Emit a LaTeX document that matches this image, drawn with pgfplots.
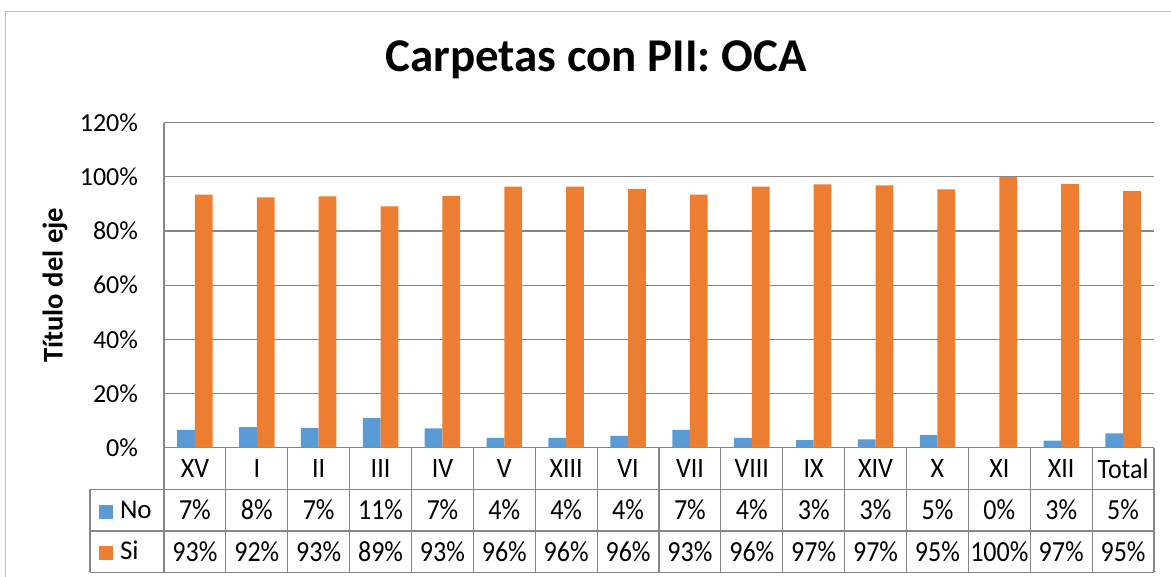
\documentclass[border=0pt]{standalone}
\usepackage{pgfplots}
\usepackage{pgfplotstable}
\pgfplotsset{compat=1.18}
\usepackage{fontspec}
\setmainfont{Carlito}
\definecolor{cno}{HTML}{5B9BD5}
\definecolor{csi}{HTML}{ED7D31}
\definecolor{gridc}{RGB}{134,134,134}
\definecolor{framec}{RGB}{191,191,191}
\pgfplotsset{sqlegend/.style={legend image code/.code={\fill[##1] (0pt,-4.3pt) rectangle (7pt,2.7pt);}}}
\pgfplotstableread{
x no si cat
0 6.6 93.4 XV
1 7.6 92.4 I
2 7.2 92.8 II
3 10.9 89.1 III
4 7.1 92.9 IV
5 3.6 96.4 V
6 3.6 96.4 XIII
7 4.4 95.6 VI
8 6.6 93.4 VII
9 3.6 96.4 VIII
10 2.8 97.2 IX
11 3.1 96.9 XIV
12 4.6 95.4 X
13 0 100 XI
14 2.6 97.4 XII
15 5.3 94.7 Total
}\datatab
\begin{document}
\begin{tikzpicture}
\useasboundingbox (0,0) rectangle (585.5pt,288.5pt);
\draw[framec, line width=0.6pt] (2.85pt,-2pt) -- (2.85pt,282.65pt) -- (590pt,282.65pt);
\begin{axis}[
 at={(82pt,64.65pt)}, anchor=south west, scale only axis,
 width=495pt, height=162.5pt,
 xmin=-0.5, xmax=15.5, ymin=0, ymax=120,
 xtick=\empty, ytick={0,20,...,120},
 /pgf/number format/assume math mode=true,
 yticklabel={\pgfmathprintnumber{\tick}\%},
 ymajorgrids, grid style={gridc, line width=0.6pt},
 axis lines*=left, axis line style={gridc, line width=0.6pt, -},
 major tick length=0pt,
 tick label style={font=\fontsize{13}{15.6}\selectfont},
 yticklabel style={anchor=east, inner sep=0pt, xshift=-12.8pt},
 clip=false,
 title={Carpetas con PII: OCA},
 title style={font=\fontsize{23.5}{28}\selectfont\bfseries, at={(axis description cs:0.4364,1.121)}, anchor=base, inner sep=0pt},
 ylabel={Título del eje},
 ylabel style={at={(axis description cs:-0.1101,0.5)}, anchor=center, inner sep=0pt, font=\fontsize{14.3}{17}\selectfont\bfseries},
 legend style={at={(axis cs:-1.5505,-15.36)}, anchor=north west, draw=none, fill=none,
   inner sep=0pt, outer sep=0pt, row sep=0pt, column sep=3.5pt,
   font=\fontsize{13.5}{16}\selectfont,
   nodes={inner sep=0pt, text height=14.6pt, text depth=6.15pt}},
 legend cell align=left,
]
\addplot[ybar, bar width=0.286, bar shift=-0.143, fill=cno, draw=none, sqlegend] table[x=x,y=no]{\datatab};
\addlegendentry{No}
\addplot[ybar, bar width=0.286, bar shift=0.143, fill=csi, draw=none, sqlegend] table[x=x,y=si]{\datatab};
\addlegendentry{Si}
% data table rows
\addplot[forget plot, draw=none, mark=none, nodes near coords, point meta=explicit symbolic,
  nodes near coords align=center,
  every node near coord/.append style={anchor=center, inner sep=0pt, text=black, font=\fontsize{13}{15.6}\selectfont, yscale=1.08}]
  table[x=x, y expr=-7.68, meta=cat]{\datatab};
\addplot[forget plot, draw=none, mark=none, point meta=\thisrow{no},
  nodes near coords={\pgfmathprintnumber[fixed,precision=0]{\pgfplotspointmeta}\%},
  nodes near coords align=center,
  every node near coord/.append style={anchor=center, inner sep=0pt, text=black, font=\fontsize{13}{15.6}\selectfont, yscale=1.12}]
  table[x=x, y expr=-23.06]{\datatab};
\addplot[forget plot, draw=none, mark=none, point meta=\thisrow{si},
  nodes near coords={\pgfmathprintnumber[fixed,precision=0]{\pgfplotspointmeta}\%},
  nodes near coords align=center,
  every node near coord/.append style={anchor=center, inner sep=0pt, text=black, font=\fontsize{13}{15.6}\selectfont, yscale=1.12}]
  table[x=x, y expr=-38.4]{\datatab};
% table grid
\pgfplotsinvokeforeach{-0.5,0.5,...,15.5}{
  \draw[gridc, line width=0.6pt] (axis cs:#1,0) -- (axis cs:#1,-46);
}
\draw[gridc, line width=0.6pt] (axis cs:-1.696,-15.36) -- (axis cs:15.5,-15.36);
\draw[gridc, line width=0.6pt] (axis cs:-1.696,-30.76) -- (axis cs:15.5,-30.76);
\draw[gridc, line width=0.6pt] (axis cs:-1.696,-46) -- (axis cs:15.5,-46);
\draw[gridc, line width=0.6pt] (axis cs:-1.696,-15.36) -- (axis cs:-1.696,-46);
\end{axis}
\end{tikzpicture}
\end{document}
